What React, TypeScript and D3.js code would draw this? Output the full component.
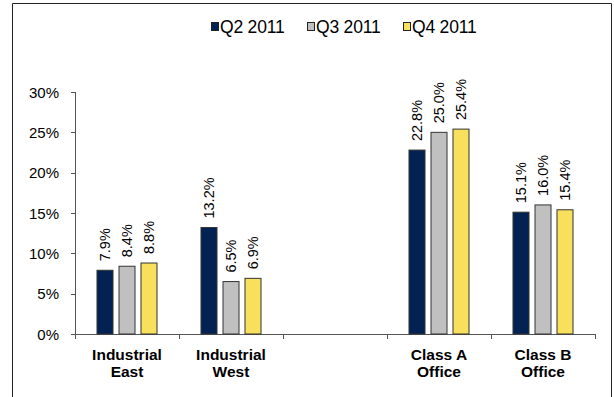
import React from "react";
import * as d3 from "d3";

const categories = [["Industrial", "East"], ["Industrial", "West"], ["", ""], ["Class A", "Office"], ["Class B", "Office"]];
const series = ["Q2 2011", "Q3 2011", "Q4 2011"];
const q2 = [7.9, 13.2, null, 22.8, 15.1];
const q3 = [8.4, 6.5, null, 25.0, 16.0];
const q4 = [8.8, 6.9, null, 25.4, 15.4];
const colors = ["#012252", "#C0C0C0", "#F8E05C"];
const yTicks = [0, 5, 10, 15, 20, 25, 30];

const W = 614, H = 397;
const left = 75, right = 595, top = 92, bottom = 334;
const font = "'Liberation Sans', Arial, sans-serif";

export default function App() {
  const values = [q2, q3, q4];
  const x = d3.scaleBand<number>().domain(d3.range(categories.length)).range([left, right]).paddingInner(0).paddingOuter(0);
  const y = d3.scaleLinear().domain([0, 30]).range([bottom, top]);
  const groupW = 60;
  const inner = d3.scaleBand<number>().domain([0, 1, 2]).range([0, groupW]).paddingInner(6 / 22).paddingOuter(0);
  const tickXs = d3.range(categories.length + 1).map(i => left + i * x.bandwidth());

  const legendX = [211, 307, 403];

  return (
    <svg width={W} height={H} style={{ position: "absolute", left: 0, top: 0, fontFamily: font }}>
      <rect x={0} y={0} width={W} height={H} fill="#fff" />
      <path d={`M12.5,${H + 2}V3.5H611.5V${H + 2}`} fill="none" stroke="#222" strokeWidth={1} />
      {/* legend */}
      {series.map((s, i) => (
        <g key={s}>
          <rect x={legendX[i] + 0.5} y={22.5} width={7} height={8} fill={colors[i]} stroke="#222" strokeWidth={1} />
          <text x={legendX[i] + 9} y={33} fontSize={17.5} fill="#000" letterSpacing={-0.2}>{s}</text>
        </g>
      ))}
      {/* y axis */}
      <line x1={left + 0.5} x2={left + 0.5} y1={top} y2={bottom} stroke="#555" />
      {yTicks.map(t => (
        <g key={t}>
          <line x1={left - 4} x2={left} y1={Math.round(y(t)) + 0.5} y2={Math.round(y(t)) + 0.5} stroke="#555" />
          <text x={left - 16} y={y(t) + 5.5} fontSize={15} textAnchor="end" fill="#000">{t}%</text>
        </g>
      ))}
      {/* x axis */}
      <line x1={left} x2={right + 1} y1={bottom + 0.5} y2={bottom + 0.5} stroke="#555" />
      {tickXs.map((tx, i) => (
        <line key={i} x1={Math.round(tx) + 0.5} x2={Math.round(tx) + 0.5} y1={bottom} y2={bottom + 5} stroke="#555" />
      ))}
      {/* bars */}
      {categories.map((c, ci) => {
        const gx = (x(ci) as number) + (x.bandwidth() - groupW) / 2;
        return (
          <g key={ci}>
            {values.map((arr, si) => {
              const v = arr[ci];
              if (v == null) return null;
              const bx = gx + (inner(si) as number);
              const bw = inner.bandwidth();
              const by = y(v);
              return (
                <g key={si}>
                  <rect x={bx} y={by} width={bw} height={bottom - by} fill={colors[si]} stroke="#333" strokeWidth={1} />
                  <text transform={`translate(${bx + bw / 2 + 5},${by - 9}) rotate(-90)`} fontSize={14.5} fill="#000">{v.toFixed(1)}%</text>
                </g>
              );
            })}
            <text x={(x(ci) as number) + x.bandwidth() / 2} y={360} fontSize={15.5} fontWeight="bold" textAnchor="middle" fill="#000">{c[0]}</text>
            <text x={(x(ci) as number) + x.bandwidth() / 2} y={377} fontSize={15.5} fontWeight="bold" textAnchor="middle" fill="#000">{c[1]}</text>
          </g>
        );
      })}
    </svg>
  );
}
